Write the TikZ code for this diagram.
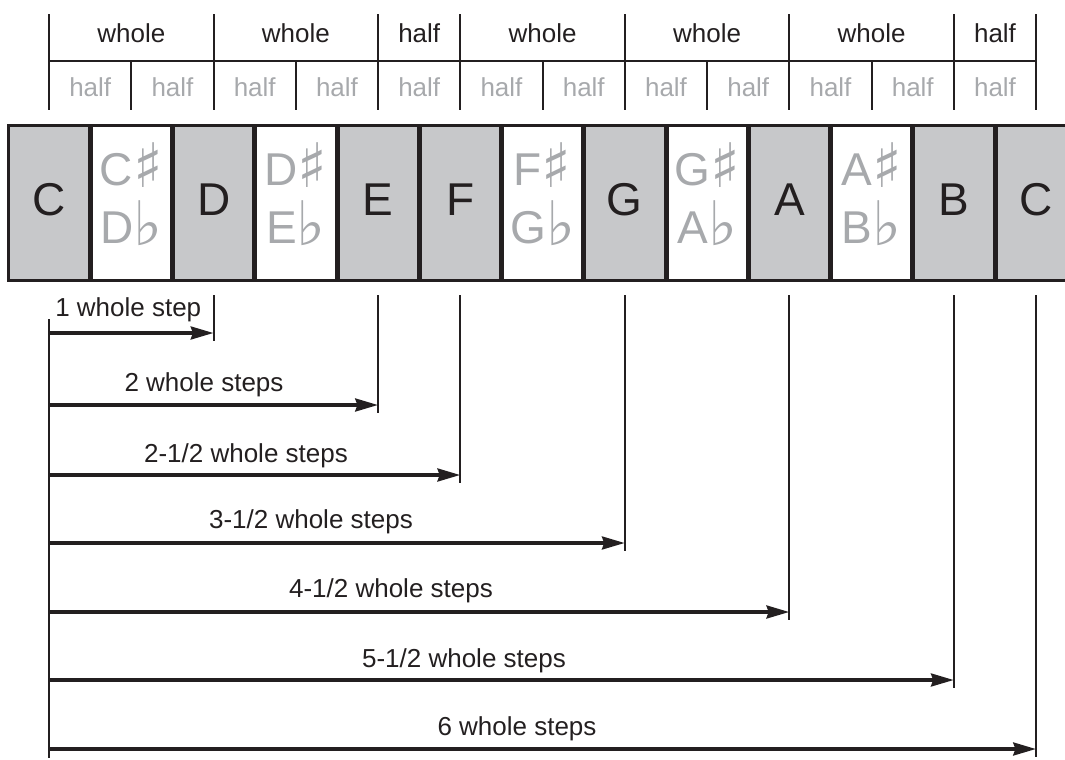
\documentclass[tikz,border=0pt]{standalone}
\usepackage{fontspec}
\setmainfont{Liberation Sans}
\newfontfamily\symfont{DejaVu Sans}
\usetikzlibrary{arrows.meta}
\definecolor{ink}{HTML}{231F20}
\definecolor{keygray}{HTML}{C7C8CA}
\definecolor{txtgray}{HTML}{A7A9AC}
\newcommand\mysharp{{\symfont\fontsize{46}{50}\selectfont\raisebox{-1.5pt}{♯}}}
\newcommand\myflat{{\symfont\fontsize{46}{50}\selectfont\raisebox{-2pt}{♭}}}
\tikzset{
  keybox/.style={draw=ink, line width=2.25pt, minimum width=60.19pt, minimum height=116.6pt, inner sep=0pt, outer sep=0pt},
  natkey/.style={keybox, fill=keygray},
  acckey/.style={keybox, fill=white},
  bigletter/.style={font=\fontsize{34.5}{40}\selectfont, text=ink, anchor=base, inner sep=0pt},
  accletter/.style={font=\fontsize{34.5}{40}\selectfont, text=txtgray, anchor=base, inner sep=0pt},
  rulel/.style={draw=ink, line width=1.5pt},
  steplbl/.style={font=\fontsize{19.5}{22}\selectfont, text=ink, anchor=base, inner sep=0pt},
  halflbl/.style={steplbl, text=txtgray},
  arr/.style={draw=ink, line width=3pt, -{Stealth[length=17pt,width=9.5pt,inset=1.5pt]}},
}
\begin{document}
\begin{tikzpicture}[x=0.75pt,y=-0.75pt]
\useasboundingbox (0,0) rectangle (1065,760);
% keys
\foreach \i/\nm in {0/C,2/D,4/E,5/F,7/G,9/A,11/B,12/C}{
  \node[natkey] (k\i) at ({49.125+82.25*\i},203.25) {};
  \node[bigletter] (n\i) at ({49.125+82.25*\i},215) {\nm};
}
\foreach \i/\a/\b in {1/C/D,3/D/E,6/F/G,8/G/A,10/A/B}{
  \node[acckey] (k\i) at ({49.125+82.25*\i},203.25) {};
  \node[accletter] (s\i) at ({49.125+82.25*\i},185) {\a\mysharp};
  \node[accletter] (f\i) at ({49.125+82.25*\i},243) {\b\myflat};
}
% top scale
\foreach \i in {0,...,12}{
  \coordinate (w\i) at ({49.125+82.25*\i},14);
  \coordinate (h\i) at ({49.125+82.25*\i},61);
  \coordinate (b\i) at ({49.125+82.25*\i},110);
}
\foreach \i in {0,2,4,5,7,9,11,12}{\draw[rulel] (w\i) -- (b\i);}
\foreach \i in {1,3,6,8,10}{\draw[rulel] (h\i) -- (b\i);}
\draw[rulel] (h0) -- (h12);
\foreach \i/\j in {0/2,2/4,5/7,7/9,9/11}{
  \node[steplbl] (W\i) at ({49.125+82.25*(\i+\j)/2},42) {whole};
}
\foreach \i/\j in {4/5,11/12}{
  \node[steplbl] (H\i) at ({49.125+82.25*(\i+\j)/2},42) {half};
}
\foreach \i in {0,...,11}{
  \node[halflbl] (g\i) at ({49.125+82.25*(\i+0.5)},96.5) {half};
}
% bottom intervals
\coordinate (s0) at (49.125,319);
\coordinate (s1) at (49.125,758);
\draw[rulel] (s0) -- (s1);
\foreach \j/\i/\y in {1/2/333,2/4/405,3/5/475,4/7/543,5/9/612,6/11/680,7/12/749}{
  \coordinate (t\j) at ({49.125+82.25*\i},295);
  \coordinate (u\j) at ({49.125+82.25*\i},{\y+8});
  \coordinate (a\j) at (49.125,\y);
  \coordinate (e\j) at ({49.125+82.25*\i},\y);
  \draw[rulel] (t\j) -- (u\j);
  \draw[arr] (a\j) -- (e\j);
}
\node[steplbl, anchor=base west] (L1) at (55,316) {1 whole step};
\node[steplbl] (L2) at (204,391) {2 whole steps};
\node[steplbl] (L3) at (246,462) {2-1/2 whole steps};
\node[steplbl] (L4) at (311,528) {3-1/2 whole steps};
\node[steplbl] (L5) at (391,597) {4-1/2 whole steps};
\node[steplbl] (L6) at (464,667) {5-1/2 whole steps};
\node[steplbl] (L7) at (517,735) {6 whole steps};
\end{tikzpicture}
\end{document}
